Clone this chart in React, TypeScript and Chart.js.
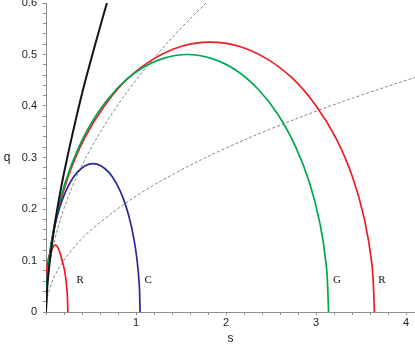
import { useEffect, useRef } from 'react';
import { Chart, registerables } from 'chart.js';

Chart.register(...registerables);

// Black curve
const blackS = [0, 0.005, 0.02, 0.05, 0.1, 0.15, 0.2, 0.3, 0.4, 0.5, 0.6, 0.677];
const blackQ = [0, 0.025, 0.061, 0.11, 0.173, 0.225, 0.27, 0.35, 0.424, 0.49, 0.553, 0.6];

// Large red curve R
const redS = [0, 0.0277, 0.1102, 0.2446, 0.4271, 0.6519, 0.9125, 1.2009, 1.5082, 1.825, 2.1418, 2.4492, 2.7375, 2.9981, 3.223, 3.4055, 3.5398, 3.6223, 3.65];
const redQ = [0, 0.091, 0.179, 0.262, 0.337, 0.401, 0.454, 0.492, 0.516, 0.524, 0.516, 0.492, 0.454, 0.401, 0.337, 0.262, 0.179, 0.091, 0];

// Green curve G
const greenS = [0, 0.0239, 0.0948, 0.2104, 0.3674, 0.5608, 0.785, 1.0331, 1.2974, 1.57, 1.8426, 2.1069, 2.355, 2.5792, 2.7726, 2.9296, 3.0452, 3.1161, 3.14];
const greenQ = [0, 0.087, 0.171, 0.25, 0.321, 0.383, 0.433, 0.47, 0.492, 0.5, 0.492, 0.47, 0.433, 0.383, 0.321, 0.25, 0.171, 0.087, 0];

// Blue curve C
const blueS = [0, 0.0079, 0.0316, 0.07, 0.1223, 0.1866, 0.2613, 0.3438, 0.4318, 0.5225, 0.6132, 0.7012, 0.7838, 0.8584, 0.9227, 0.975, 1.0134, 1.0371, 1.045];
const blueQ = [0, 0.05, 0.0985, 0.144, 0.185, 0.2206, 0.2494, 0.2706, 0.2836, 0.288, 0.2836, 0.2706, 0.2494, 0.2206, 0.185, 0.144, 0.0985, 0.05, 0];

// Small red curve R
const smallRedS = [0, 0.004, 0.009, 0.025, 0.058, 0.085, 0.106, 0.135, 0.169, 0.206, 0.225, 0.236, 0.243];
const smallRedQ = [0, 0.05, 0.081, 0.103, 0.12, 0.128, 0.13, 0.124, 0.107, 0.081, 0.058, 0.035, 0];

// Dashed curves
const dashSteepS = [0, 0.01, 0.04, 0.1, 0.2, 0.35, 0.5, 0.75, 1.0, 1.25, 1.5, 1.778];
const dashSteepQ = [0, 0.045, 0.09, 0.1423, 0.2012, 0.2662, 0.3182, 0.3897, 0.45, 0.5031, 0.5511, 0.6];
const dashFlatS = [0, 0.01, 0.04, 0.1, 0.25, 0.5, 1, 1.5, 2, 2.5, 3, 3.5, 4.1];
const dashFlatQ = [0, 0.0225, 0.045, 0.0712, 0.1125, 0.1591, 0.225, 0.2756, 0.3182, 0.3558, 0.3897, 0.4209, 0.4556];

// Curve labels
const curveLabels = ['R', 'C', 'G', 'R'];
const labelS = [0.379, 1.134, 3.233, 3.733];
const labelQ = [0.062, 0.062, 0.062, 0.062];

const xTitle = 's';
const yTitle = 'q';

const toPts = (s: number[], q: number[]) => s.map((v, i) => ({ x: v, y: q[i] }));

const labelPlugin = {
  id: 'labels',
  afterDatasetsDraw(chart: any) {
    const ctx = chart.ctx;
    const xs = chart.scales.x;
    const ys = chart.scales.y;
    ctx.save();
    ctx.fillStyle = '#111';
    ctx.font = '11px "Liberation Serif", serif';
    ctx.textAlign = 'center';
    ctx.textBaseline = 'middle';
    curveLabels.forEach((t, i) => {
      ctx.fillText(t, xs.getPixelForValue(labelS[i]), ys.getPixelForValue(labelQ[i]));
    });
    ctx.font = '12px "Liberation Sans", sans-serif';
    ctx.fillText(yTitle, 7, (ys.top + ys.bottom) / 2);
    ctx.fillText(xTitle, (xs.left + xs.right) / 2, 339);
    ctx.restore();
  },
};

export default function App() {
  const ref = useRef<HTMLCanvasElement | null>(null);
  useEffect(() => {
    document.body.style.margin = '0';
    if (!ref.current) return;
    const line = (data: any, color: string, width: number, order: number, dash: number[] = []) => ({
      data,
      borderColor: color,
      borderWidth: width,
      borderDash: dash,
      pointRadius: 0,
      showLine: true,
      fill: false,
      tension: 0.35,
      order,
    });
    const chart = new Chart(ref.current, {
      type: 'scatter',
      data: {
        datasets: [
          line(toPts(dashSteepS, dashSteepQ), 'rgb(135,135,135)', 1, 10, [3, 2]),
          line(toPts(dashFlatS, dashFlatQ), 'rgb(135,135,135)', 1, 10, [3, 2]),
          line(toPts(redS, redQ), 'rgb(236,28,36)', 1.7, 5),
          line(toPts(smallRedS, smallRedQ), 'rgb(236,28,36)', 1.7, 4),
          line(toPts(blueS, blueQ), 'rgb(40,40,150)', 1.7, 3),
          line(toPts(greenS, greenQ), 'rgb(0,166,81)', 1.7, 2),
          line(toPts(blackS, blackQ), 'rgb(20,20,20)', 2, 1),
        ] as any,
      },
      options: {
        responsive: false,
        devicePixelRatio: 1,
        animation: false,
        layout: { padding: { top: 3, right: 0, left: 0, bottom: 0 } },
        plugins: { legend: { display: false }, tooltip: { enabled: false } },
        scales: {
          x: {
            type: 'linear',
            min: 0,
            max: 4.1,
            afterBuildTicks: (scale: any) => {
              scale.ticks = scale.ticks.filter((t: any) => Math.abs(t.value * 5 - Math.round(t.value * 5)) < 1e-6);
            },
            afterFit: (scale: any) => {
              scale.height = 34;
              scale.paddingLeft = 0;
              scale.paddingRight = 0;
            },
            ticks: {
              stepSize: 0.2,
              includeBounds: false,
              autoSkip: false,
              maxRotation: 0,
              padding: 1,
              color: '#222',
              font: { family: '"Liberation Sans", sans-serif', size: 11 },
              callback: (v: any) => {
                const r = Math.round(Number(v) * 10);
                return r % 10 === 0 && r !== 0 ? String(r / 10) : '';
              },
            },
            grid: { drawOnChartArea: false, drawTicks: true, tickLength: 3, color: 'rgb(140,140,140)' },
            border: { display: true, color: 'rgb(140,140,140)', width: 1 },
          },
          y: {
            type: 'linear',
            min: 0,
            max: 0.6,
            afterFit: (scale: any) => {
              scale.width = 46;
              scale.paddingTop = 0;
              scale.paddingBottom = 0;
            },
            ticks: {
              stepSize: 0.02,
              autoSkip: false,
              padding: 6,
              color: '#222',
              font: { family: '"Liberation Sans", sans-serif', size: 11 },
              callback: (v: any) => {
                const r = Math.round(Number(v) * 100);
                return r % 10 === 0 ? String(r / 100) : '';
              },
            },
            grid: { drawOnChartArea: false, drawTicks: true, tickLength: 3, color: 'rgb(140,140,140)' },
            border: { display: true, color: 'rgb(140,140,140)', width: 1 },
          },
        },
      },
      plugins: [labelPlugin],
    });
    return () => chart.destroy();
  }, []);
  return (
    <div style={{ width: 415, height: 346 }}>
      <canvas ref={ref} width={415} height={346} />
    </div>
  );
}
